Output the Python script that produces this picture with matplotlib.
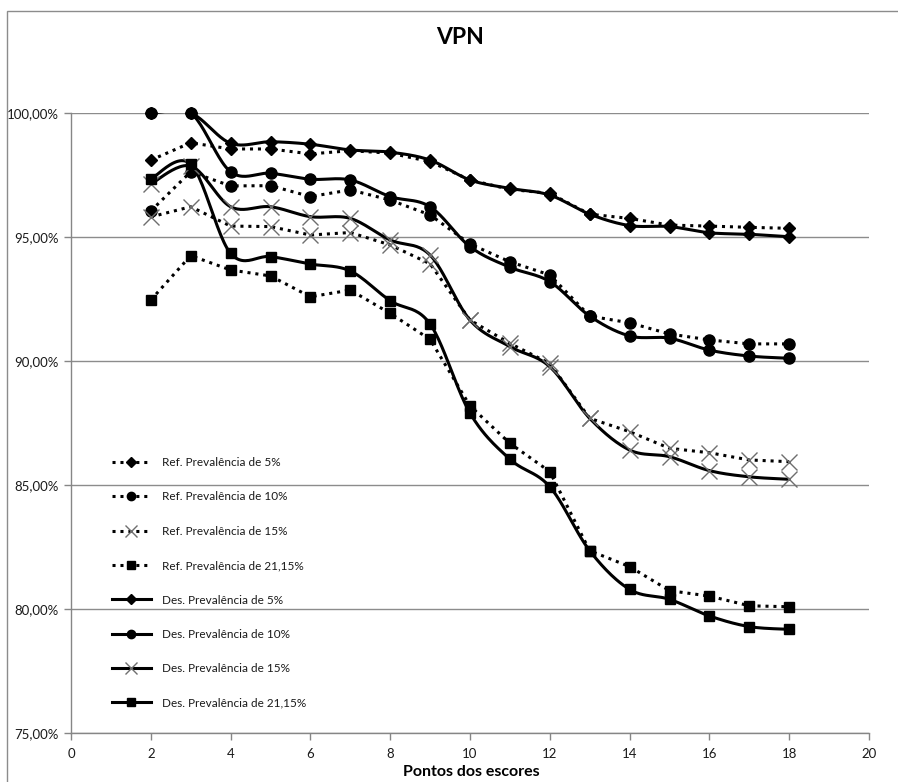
import numpy as np
import matplotlib
matplotlib.use("Agg")
import matplotlib.pyplot as plt
from matplotlib.lines import Line2D
from matplotlib.patches import Rectangle
from matplotlib.ticker import FuncFormatter, MultipleLocator

plt.rcParams["font.family"] = ["Lato", "DejaVu Sans"]

# Score points on the x axis
pontos = np.arange(2, 19)

# Reference (dotted) series, VPN in %
ref_5 = [98.10, 98.80, 98.55, 98.55, 98.35, 98.48, 98.38, 98.04, 97.30, 96.92,
         96.76, 95.92, 95.75, 95.48, 95.44, 95.39, 95.35]
ref_10 = [96.05, 97.63, 97.06, 97.07, 96.63, 96.90, 96.49, 95.89, 94.72, 94.00,
          93.47, 91.81, 91.54, 91.09, 90.85, 90.69, 90.69]
ref_15 = [95.81, 96.22, 95.44, 95.42, 95.08, 95.18, 94.68, 93.92, 91.65, 90.71,
          89.90, 87.69, 87.15, 86.48, 86.30, 86.01, 85.94]
ref_2115 = [92.46, 94.25, 93.67, 93.43, 92.59, 92.86, 91.92, 90.87, 88.19, 86.68,
            85.54, 82.35, 81.71, 80.74, 80.52, 80.13, 80.09]

# Developed-model (solid, smoothed) series, VPN in %
des_5 = [100.00, 100.00, 98.78, 98.84, 98.74, 98.51, 98.42, 98.10, 97.30, 96.96,
         96.69, 95.92, 95.46, 95.42, 95.17, 95.11, 95.01]
des_10 = [100.00, 100.00, 97.63, 97.57, 97.33, 97.30, 96.63, 96.22, 94.61, 93.78,
          93.20, 91.81, 91.01, 90.92, 90.44, 90.20, 90.11]
des_15 = [97.14, 97.86, 96.22, 96.22, 95.82, 95.75, 94.88, 94.27, 91.65, 90.58,
          89.77, 87.69, 86.41, 86.14, 85.58, 85.33, 85.23]
des_2115 = [97.34, 97.94, 94.34, 94.21, 93.91, 93.63, 92.43, 91.49, 87.90, 86.04,
            84.93, 82.35, 80.79, 80.39, 79.72, 79.29, 79.18]

labels_ref = ["Ref. Prevalência de 5%", "Ref. Prevalência de 10%",
              "Ref. Prevalência de 15%", "Ref. Prevalência de 21,15%"]
labels_des = ["Des. Prevalência de 5%", "Des. Prevalência de 10%",
              "Des. Prevalência de 15%", "Des. Prevalência de 21,15%"]


def smooth_curve(x, y, n=25):
    """Catmull-Rom style cubic Bezier smoothing through every point."""
    pts = np.column_stack([x, y]).astype(float)
    P = np.vstack([pts[0], pts, pts[-1]])
    out = []
    t = np.linspace(0, 1, n)[:, None]
    for i in range(1, len(P) - 2):
        p0, p1, p2, p3 = P[i - 1], P[i], P[i + 1], P[i + 2]
        c1 = p1 + (p2 - p0) / 6.0
        c2 = p2 - (p3 - p1) / 6.0
        seg = ((1 - t) ** 3) * p1 + 3 * ((1 - t) ** 2) * t * c1 \
            + 3 * (1 - t) * t ** 2 * c2 + t ** 3 * p2
        out.append(seg if i == len(P) - 3 else seg[:-1])
    seg = np.vstack(out)
    return seg[:, 0], seg[:, 1]


fig = plt.figure(figsize=(8.98, 7.82), dpi=100)
fig.patch.set_facecolor("white")
fig.patches.append(Rectangle((7 / 898, -0.1), 1.2, 1.1 - 11 / 782,
                             transform=fig.transFigure, fill=False,
                             edgecolor="#8c8c8c", linewidth=1.0))

ax = fig.add_axes([71 / 898, 49 / 782, 798 / 898, 620 / 782])
ax.set_xlim(0, 20)
ax.set_ylim(75, 100)

dotted = (0, (1, 1.6))
mk_styles = [
    dict(marker="D", markersize=6.5, markerfacecolor="black", markeredgecolor="black"),
    dict(marker="o", markersize=8, markerfacecolor="black", markeredgecolor="black"),
    dict(marker="x", markersize=11, markeredgecolor="#6e6e6e", markeredgewidth=1.0),
    dict(marker="s", markersize=7.5, markerfacecolor="black", markeredgecolor="black"),
]

ref_series = [ref_5, ref_10, ref_15, ref_2115]
des_series = [des_5, des_10, des_15, des_2115]

handles = []
for vals, lab, mk in zip(ref_series, labels_ref, mk_styles):
    ax.plot(pontos, vals, color="black", linestyle=dotted, linewidth=2.2,
            zorder=3)
    ax.plot(pontos, vals, linestyle="none", zorder=4, clip_on=False, **mk)
    handles.append(Line2D([], [], color="black", linestyle=dotted,
                          linewidth=2.2, label=lab, **mk))

for vals, lab, mk in zip(des_series, labels_des, mk_styles):
    sx, sy = smooth_curve(pontos, vals)
    ax.plot(sx, sy, color="black", linestyle="-", linewidth=2.2,
            solid_capstyle="round", zorder=5)
    ax.plot(pontos, vals, linestyle="none", zorder=6, clip_on=False, **mk)
    handles.append(Line2D([], [], color="black", linestyle="-",
                          linewidth=2.2, label=lab, **mk))

# Axes styling
for s in ["top", "right"]:
    ax.spines[s].set_visible(False)
for s in ["left", "bottom"]:
    ax.spines[s].set_color("#868686")
    ax.spines[s].set_linewidth(1.0)
ax.yaxis.set_major_locator(MultipleLocator(5))
ax.xaxis.set_major_locator(MultipleLocator(2))
ax.yaxis.set_major_formatter(FuncFormatter(lambda v, p: f"{v:.2f}%".replace(".", ",")))
ax.grid(axis="y", color="#8c8c8c", linewidth=1.0, zorder=1)
ax.set_axisbelow(True)
ax.tick_params(axis="both", direction="out", length=5, width=1.0,
               color="#868686", labelsize=9.5, labelcolor="#1a1a1a")
ax.tick_params(axis="y", pad=4)
ax.tick_params(axis="x", pad=6)

fig.text(460 / 898, 1 - 38 / 782, "VPN", ha="center", va="center",
         fontsize=16.5, fontweight="bold", color="black")
fig.text(471 / 898, 1 - 772 / 782, "Pontos dos escores", ha="center",
         va="center", fontsize=11.5, fontweight="bold", color="black")

leg = ax.legend(handles=handles, loc="upper left",
                bbox_to_anchor=(112 / 898, 1 - 457 / 782),
                bbox_transform=fig.transFigure, frameon=False,
                fontsize=8.5, labelspacing=1.98, handlelength=3.3,
                handletextpad=0.9, markerscale=0.75, borderpad=0,
                borderaxespad=0)
for t in leg.get_texts():
    t.set_color("#1a1a1a")

fig.savefig("out.png", dpi=100, facecolor="white")
